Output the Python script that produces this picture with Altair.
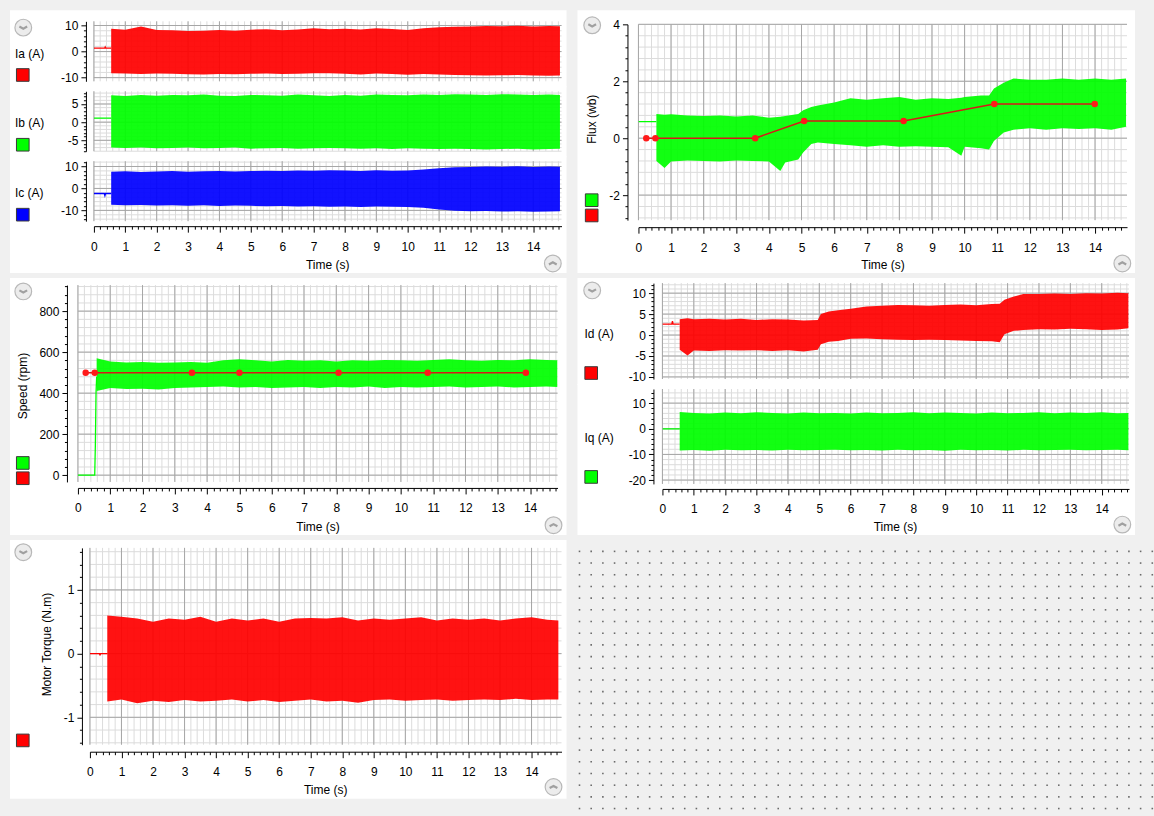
import altair as alt
import numpy as np
import pandas as pd

FONT = "Liberation Sans"
RED, GREEN, BLUE = "#ff0000", "#00ff00", "#0000ff"
REFLINE = "#d81818"
MINOR_C, MAJOR_C = "#dcdcdc", "#a6a6a6"
ONE = pd.DataFrame({"k": [0]})

# ---------------- data ----------------
T_STD = [0.55, 1.0, 1.5, 2.0, 2.5, 3.0, 3.5, 4.0, 4.5, 5.0, 5.5, 6.0, 6.5, 7.0, 7.5,
         8.0, 8.5, 9.0, 9.5, 10.0, 10.5, 11.0, 11.5, 12.0, 12.5, 13.0, 13.5, 14.0, 14.5, 14.85]

IA_PRE_T = [0, 0.34, 0.36, 0.38, 0.55]
IA_PRE_V = [1.3, 1.3, 1.8, 1.3, 1.3]
IA_HI = [8.8, 8.4, 9.6, 8.3, 8.2, 7.9, 8.0, 8.3, 8.0, 8.4, 8.6, 8.2, 8.5, 8.9, 8.6,
         8.8, 8.5, 8.9, 8.7, 8.3, 8.9, 9.3, 9.5, 9.6, 9.8, 9.7, 9.9, 9.6, 9.8, 9.7]
IA_LO = [-8.3, -8.4, -8.6, -8.4, -8.5, -8.7, -8.8, -8.6, -8.7, -8.5, -8.4, -8.6, -8.5, -8.3, -8.3,
         -8.5, -8.8, -8.4, -8.6, -8.9, -8.6, -8.8, -9.0, -9.1, -9.2, -9.1, -9.0, -9.2, -9.3, -9.2]

IB_PRE_T = [0, 0.55]
IB_PRE_V = [1.1, 1.1]
IB_HI = [7.4, 7.2, 7.5, 7.3, 7.5, 7.4, 7.6, 7.3, 7.2, 7.5, 7.4, 7.3, 7.6, 7.4, 7.2,
         7.5, 7.3, 7.6, 7.5, 7.4, 7.6, 7.5, 7.7, 7.6, 7.5, 7.7, 7.6, 7.5, 7.6, 7.5]
IB_LO = [-7.0, -7.1, -7.0, -7.2, -7.1, -7.0, -7.2, -7.1, -7.0, -7.3, -7.2, -7.1, -7.3, -7.2, -7.1,
         -7.2, -7.3, -7.2, -7.4, -7.2, -7.3, -7.4, -7.3, -7.4, -7.5, -7.4, -7.3, -7.5, -7.4, -7.3]

IC_PRE_T = [0, 0.33, 0.35, 0.37, 0.55]
IC_PRE_V = [-2.3, -2.3, -3.3, -2.3, -2.3]
IC_HI = [7.6, 7.8, 7.5, 7.7, 7.9, 7.6, 7.8, 8.0, 7.7, 7.9, 8.1, 8.0, 8.2, 8.1, 8.3,
         8.2, 8.0, 8.3, 8.1, 8.2, 8.6, 9.2, 9.6, 9.8, 10.0, 9.9, 10.1, 9.8, 10.0, 9.9]
IC_LO = [-7.4, -7.6, -7.5, -7.8, -7.6, -7.9, -7.7, -8.0, -7.8, -7.9, -8.1, -8.0, -8.2, -8.1, -8.3,
         -8.2, -8.4, -8.2, -8.3, -8.4, -8.8, -9.6, -10.2, -10.4, -10.3, -10.5, -10.4, -10.6, -10.5, -10.4]

FLUX_PRE_T = [0, 0.55]
FLUX_PRE_V = [0.58, 0.58]
FLUX_T = [0.55, 0.8, 1.0, 1.5, 2.0, 2.5, 3.0, 3.5, 4.0, 4.35, 4.5, 4.9, 5.05, 5.3, 5.5,
          6.0, 6.5, 7.0, 7.5, 8.0, 8.5, 9.0, 9.5, 9.9, 10.0, 10.5, 10.75, 10.9, 11.2, 11.5,
          12.0, 12.5, 13.0, 13.5, 14.0, 14.5, 14.95]
FLUX_HI = [0.85, 0.82, 0.84, 0.8, 0.78, 0.8, 0.76, 0.8, 0.72, 0.75, 0.78, 0.85, 0.98, 1.1, 1.15,
           1.25, 1.4, 1.35, 1.4, 1.45, 1.35, 1.4, 1.38, 1.42, 1.45, 1.5, 1.5, 1.75, 1.95, 2.1,
           2.05, 2.05, 2.1, 2.05, 2.1, 2.05, 2.1]
FLUX_LO = [-0.8, -1.05, -0.82, -0.78, -0.8, -0.82, -0.78, -0.8, -0.82, -1.15, -0.85, -0.75, -0.5, -0.2, -0.15,
           -0.2, -0.25, -0.3, -0.25, -0.3, -0.28, -0.3, -0.32, -0.62, -0.3, -0.35, -0.4, -0.1, 0.2, 0.3,
           0.35, 0.3, 0.35, 0.32, 0.35, 0.3, 0.4]
FLUX_REF_T = [0.24, 0.52, 3.58, 5.08, 8.13, 10.91, 13.99]
FLUX_REF_V = [0, 0, 0, 0.6, 0.6, 1.2, 1.2]

SPD_PRE_T = [0, 0.52, 0.54, 0.56, 0.58]
SPD_PRE_V = [0, 0, 150, 400, 480]
SPD_T = [0.58] + T_STD[1:]
SPD_HI = [570, 555, 550, 552, 548, 550, 552, 548, 560, 565, 560, 555, 562, 558, 560,
          555, 560, 558, 562, 560, 558, 562, 565, 560, 558, 562, 560, 565, 562, 560]
SPD_LO = [410, 425, 420, 422, 418, 425, 428, 430, 432, 428, 430, 425, 428, 430, 425,
          430, 428, 432, 425, 430, 428, 430, 432, 428, 430, 432, 428, 430, 432, 430]
SPD_REF_T = [0.24, 0.52, 3.53, 5.0, 8.07, 10.83, 13.87]
SPD_REF_V = [500, 500, 500, 500, 500, 500, 500]

ID_PRE_T = [0, 0.3, 0.32, 0.34, 0.55]
ID_PRE_V = [2.6, 2.6, 3.3, 2.6, 2.6]
ID_T = [0.55, 0.8, 1.0, 1.5, 2.0, 2.5, 3.0, 3.5, 4.0, 4.5, 4.95, 5.05, 5.3, 5.6, 6.0,
        6.5, 7.0, 7.5, 8.0, 8.5, 9.0, 9.5, 10.0, 10.5, 10.75, 10.9, 11.2, 11.5, 12.0, 12.5,
        13.0, 13.5, 14.0, 14.5, 14.85]
ID_HI = [3.8, 4.0, 3.8, 3.9, 3.7, 3.9, 3.6, 3.8, 3.7, 3.5, 3.6, 5.0, 5.6, 5.9, 6.3,
         6.8, 7.0, 7.2, 7.1, 7.0, 7.2, 7.3, 7.1, 7.4, 7.5, 8.4, 9.2, 9.8, 9.8, 9.9,
         9.8, 10.0, 9.9, 10.1, 10.0]
ID_LO = [-3.5, -4.9, -3.7, -3.8, -3.6, -3.7, -3.6, -3.8, -3.6, -3.9, -3.5, -2.2, -1.6, -1.4, -0.9,
         -0.8, -1.0, -1.1, -1.2, -1.1, -1.2, -1.3, -1.4, -1.5, -1.7, 0.2, 1.0, 1.2, 1.4, 1.3,
         1.5, 1.4, 1.2, 1.3, 1.6]

IQ_PRE_T = [0, 0.55]
IQ_PRE_V = [0, 0]
IQ_HI = [6.5, 6.2, 6.0, 6.3, 6.1, 6.4, 6.2, 6.0, 6.3, 6.1, 6.2, 6.0, 6.3, 6.1, 6.2,
         6.4, 6.1, 6.3, 6.2, 6.0, 6.3, 6.1, 6.2, 6.4, 6.1, 6.3, 6.2, 6.4, 6.1, 6.2]
IQ_LO = [-8.5, -8.3, -8.6, -8.2, -8.4, -8.3, -8.5, -8.2, -8.4, -8.3, -8.2, -8.4, -8.3, -8.5, -8.2,
         -8.4, -8.3, -8.6, -8.2, -8.4, -8.3, -8.5, -8.2, -8.4, -8.3, -8.2, -8.4, -8.3, -8.2, -8.4]

TQ_PRE_T = [0, 0.3, 0.32, 0.34, 0.55]
TQ_PRE_V = [0, 0, -0.02, 0, 0]
TQ_HI = [0.6, 0.58, 0.55, 0.5, 0.55, 0.53, 0.58, 0.5, 0.55, 0.52, 0.55, 0.5, 0.55, 0.56, 0.55,
         0.57, 0.52, 0.55, 0.53, 0.55, 0.57, 0.52, 0.55, 0.53, 0.55, 0.52, 0.55, 0.57, 0.53, 0.52]
TQ_LO = [-0.75, -0.72, -0.78, -0.74, -0.76, -0.73, -0.75, -0.74, -0.72, -0.75, -0.73, -0.76, -0.74, -0.72, -0.75,
         -0.74, -0.77, -0.73, -0.72, -0.74, -0.73, -0.72, -0.74, -0.73, -0.72, -0.73, -0.71, -0.73, -0.72, -0.72]


# ---------------- helpers ----------------
def steps(lo, hi, step):
    k0 = int(np.ceil(lo / step - 1e-9))
    k1 = int(np.floor(hi / step + 1e-9))
    return [round(k * step, 4) for k in range(k0, k1 + 1)]


def rect_layer(x1, x2, y1, y2, fill="white"):
    return alt.Chart(ONE).mark_rect(fill=fill, opacity=1, strokeWidth=0).encode(
        x=alt.value(x1), x2=alt.value(x2), y=alt.value(y1), y2=alt.value(y2))


def text_layer(txt, x, y, angle=0, align="left"):
    return alt.Chart(ONE).mark_text(text=txt, font=FONT, fontSize=12, angle=angle, align=align,
                                    baseline="middle", color="black").encode(
        x=alt.value(x), y=alt.value(y))


def swatch_layer(color, x, y):
    return alt.Chart(ONE).mark_square(size=160, filled=True, fill=color, stroke="#3a3a3a",
                                      strokeWidth=1, opacity=1).encode(x=alt.value(x), y=alt.value(y))


DOWN = "M-0.55,-0.15L0,0.15L0.55,-0.15"
UP = "M-0.55,0.15L0,-0.15L0.55,0.15"


def icon_layers(x, y, up):
    c = alt.Chart(ONE).mark_point(shape="circle", size=280, filled=True, fill="#ececec",
                                  stroke="#b8b8b8", strokeWidth=1.2, opacity=1).encode(
        x=alt.value(x), y=alt.value(y))
    ch = alt.Chart(ONE).mark_point(shape=UP if up else DOWN, size=200, filled=False,
                                   stroke="#a0a0a0", strokeWidth=2.2, opacity=1).encode(
        x=alt.value(x), y=alt.value(y))
    return [c, ch]


def build(sp):
    ox, oy = sp["origin"]
    w, h = sp["w"], sp["h"]
    xdom, ydom = sp["xdom"], sp["ydom"]
    xsc = alt.Scale(domain=xdom, nice=False, zero=False)
    ysc = alt.Scale(domain=ydom, nice=False, zero=False)
    xt_min = steps(0, xdom[1], 0.2)
    xt_maj = steps(0, xdom[1], 1)
    yt_min = steps(ydom[0], ydom[1], sp["ystep"])
    yt_maj = steps(ydom[0], ydom[1], sp["ymajor"])

    if sp.get("xoff") is not None:
        tx = "abs(datum.value - round(datum.value)) < 1e-6"
        xax = alt.Axis(values=xt_min, labelExpr=f"{tx} ? '' + round(datum.value) : ''",
                       tickSize={"condition": {"test": tx, "value": 6}, "value": 3},
                       labelFontSize={"condition": {"test": tx, "value": 12}, "value": 0},
                       offset=sp["xoff"], grid=False, labelOverlap=False, labelFlush=False,
                       labelFont=FONT, labelColor="black", labelPadding=9,
                       domainColor="black", tickColor="black", zindex=1, title="")
    else:
        xax = None
    M = sp["ymajor"]
    ty = f"abs(datum.value % {M}) < 1e-6"
    yax = alt.Axis(values=yt_min, labelExpr=f"{ty} ? '' + datum.value : ''",
                   tickSize={"condition": {"test": ty, "value": 5}, "value": 2.5},
                   labelFontSize={"condition": {"test": ty, "value": 12}, "value": 0},
                   offset=sp["yoff"], grid=False, labelOverlap=False, labelFlush=False,
                   labelFont=FONT, labelColor="black", labelPadding=3,
                   domainColor="black", tickColor="black", zindex=1, title="")

    def X(f):
        return alt.X(f + ":Q", scale=xsc, axis=xax, title="")

    def Y(f):
        return alt.Y(f + ":Q", scale=ysc, axis=yax, title="")

    bx1, by1, bx2, by2 = sp["box"]
    L = [rect_layer(bx1 - ox, bx2 - ox, by1 - oy, by2 - oy)]
    L.append(alt.Chart(pd.DataFrame({"t": xt_min})).mark_rule(color=MINOR_C, strokeWidth=1).encode(x=X("t")))
    L.append(alt.Chart(pd.DataFrame({"v": yt_min})).mark_rule(color=MINOR_C, strokeWidth=1).encode(y=Y("v")))
    L.append(alt.Chart(pd.DataFrame({"t": xt_maj})).mark_rule(color=MAJOR_C, strokeWidth=1).encode(x=X("t")))
    L.append(alt.Chart(pd.DataFrame({"v": yt_maj})).mark_rule(color=MAJOR_C, strokeWidth=1).encode(y=Y("v")))

    for s in sp["series"]:
        if s["kind"] == "band":
            df = pd.DataFrame({"t": s["t"], "hi": s["hi"], "lo": s["lo"]})
            L.append(alt.Chart(df).mark_area(color=s["color"], opacity=0.93, clip=True).encode(
                x=X("t"), y=Y("hi"), y2=alt.Y2("lo")))
        elif s["kind"] == "line":
            df = pd.DataFrame({"t": s["t"], "v": s["v"]})
            L.append(alt.Chart(df).mark_line(color=s["color"], strokeWidth=1.3, clip=True).encode(
                x=X("t"), y=Y("v")))
        elif s["kind"] == "ref":
            df = pd.DataFrame({"t": s["t"], "v": s["v"]})
            L.append(alt.Chart(df).mark_line(color=REFLINE, strokeWidth=1.5).encode(x=X("t"), y=Y("v")))
            L.append(alt.Chart(df).mark_circle(color="#ff1a1a", size=42, opacity=1).encode(x=X("t"), y=Y("v")))

    for (txt, x, y, angle, align) in sp.get("texts", []):
        L.append(text_layer(txt, x - ox, y - oy, angle, align))
    for (color, x, y) in sp.get("swatches", []):
        L.append(swatch_layer(color, x - ox, y - oy))
    for (x, y, up) in sp.get("icons", []):
        L.extend(icon_layers(x - ox, y - oy, up))
    return alt.layer(*L).properties(width=w, height=h)


def band(t, hi, lo, color):
    return {"kind": "band", "t": t, "hi": hi, "lo": lo, "color": color}


def line(t, v, color):
    return {"kind": "line", "t": t, "v": v, "color": color}


# ---------------- panel specs (pixel layout) ----------------
# upper slices overlap the next slice by 1 px (compensated by spacing=-1) so no seam shows
IA = dict(origin=(94, 21), w=468, h=60, xdom=[0, 14.9], ydom=[-11.4, 11.6], ystep=2, ymajor=10,
          yoff=8, box=(10, 10, 567, 87),
          series=[line(IA_PRE_T, IA_PRE_V, RED), band(T_STD, IA_HI, IA_LO, RED)],
          texts=[("Ia (A)", 15, 53.3, 0, "left")], swatches=[(RED, 22.8, 74.7)],
          icons=[(23.3, 27.3, False)])
IB = dict(origin=(94, 91), w=468, h=60, xdom=[0, 14.9], ydom=[-8.0, 8.5], ystep=1, ymajor=5,
          yoff=8, box=(10, 86, 567, 157),
          series=[line(IB_PRE_T, IB_PRE_V, GREEN), band(T_STD, IB_HI, IB_LO, GREEN)],
          texts=[("Ib (A)", 15, 122.7, 0, "left")], swatches=[(GREEN, 22.8, 144.5)])
IC = dict(origin=(94, 161), w=468, h=60, xdom=[0, 14.9], ydom=[-14.9, 12.4], ystep=2, ymajor=10,
          yoff=8, xoff=5, box=(10, 156, 567, 273),
          series=[line(IC_PRE_T, IC_PRE_V, BLUE), band(T_STD, IC_HI, IC_LO, BLUE)],
          texts=[("Ic (A)", 15, 192.7, 0, "left"), ("Time (s)", 328, 265, 0, "center")],
          swatches=[(BLUE, 22.8, 214.5)], icons=[(553.3, 263.3, True)])

FLUX = dict(origin=(639, 24), w=489, h=196, xdom=[0, 14.98], ydom=[-2.88, 4.0], ystep=0.4, ymajor=2,
            yoff=11, xoff=7, box=(578, 10, 1136, 273),
            series=[line(FLUX_PRE_T, FLUX_PRE_V, GREEN), band(FLUX_T, FLUX_HI, FLUX_LO, GREEN),
                    {"kind": "ref", "t": FLUX_REF_T, "v": FLUX_REF_V}],
            texts=[("Flux (wb)", 592.7, 119, 270, "center"), ("Time (s)", 883.8, 265, 0, "center")],
            swatches=[(GREEN, 592.2, 200), (RED, 592.2, 215.3)],
            icons=[(592.7, 25, False), (1123.3, 263.3, True)])

SPEED = dict(origin=(78, 283), w=480, h=197, xdom=[0, 14.85], ydom=[-33, 927], ystep=40, ymajor=200,
             yoff=11, xoff=6, box=(10, 276, 567, 533),
             series=[line(SPD_PRE_T, SPD_PRE_V, GREEN), band(SPD_T, SPD_HI, SPD_LO, GREEN),
                     {"kind": "ref", "t": SPD_REF_T, "v": SPD_REF_V}],
             texts=[("Speed (rpm)", 22.7, 384, 270, "center"), ("Time (s)", 318.3, 525, 0, "center")],
             swatches=[(GREEN, 22.8, 461), (RED, 22.8, 476.3)],
             icons=[(23.3, 289.3, False), (554, 523.3, True)])

ID = dict(origin=(663, 281), w=467, h=96, xdom=[0, 14.87], ydom=[-10.5, 12.4], ystep=1, ymajor=5,
          yoff=9, box=(578, 276, 1136, 383),
          series=[line(ID_PRE_T, ID_PRE_V, RED), band(ID_T, ID_HI, ID_LO, RED)],
          texts=[("Id (A)", 585, 331.7, 0, "left")], swatches=[(RED, 591.7, 371)],
          icons=[(592.7, 288.3, False)])
IQ = dict(origin=(663, 387), w=467, h=95, xdom=[0, 14.87], ydom=[-21.5, 15.5], ystep=2, ymajor=10,
          yoff=9, xoff=5, box=(578, 382, 1136, 533),
          series=[line(IQ_PRE_T, IQ_PRE_V, GREEN), band(T_STD, IQ_HI, IQ_LO, GREEN)],
          texts=[("Iq (A)", 585, 435.7, 0, "left"), ("Time (s)", 896.2, 525, 0, "center")],
          swatches=[(GREEN, 591.7, 475)], icons=[(1123.3, 522.7, True)])

TQ = dict(origin=(90, 544), w=472, h=197, xdom=[0, 14.95], ydom=[-1.43, 1.66], ystep=0.2, ymajor=1,
          yoff=8, xoff=7, box=(10, 536, 567, 795),
          series=[line(TQ_PRE_T, TQ_PRE_V, RED), band(T_STD, TQ_HI, TQ_LO, RED)],
          texts=[("Motor Torque (N.m)", 46.7, 640.8, 270, "center"), ("Time (s)", 326, 786, 0, "center")],
          swatches=[(RED, 22.8, 736.7)], icons=[(23.3, 548.3, False), (554, 783.3, True)])

# ---------------- empty dotted area ----------------
gx, gy = np.meshgrid(np.arange(2.0, 576, 11.7), np.arange(11.5, 280, 11.7))
dots = pd.DataFrame({"px": gx.ravel(), "py": gy.ravel()})
empty = alt.Chart(dots).mark_square(size=2.5, color="#6a6a6a", opacity=1).encode(
    x=alt.X("px:Q", scale=alt.Scale(domain=[0, 576], nice=False, zero=False), axis=None),
    y=alt.Y("py:Q", scale=alt.Scale(domain=[0, 280], nice=False, zero=False, reverse=True), axis=None),
).properties(width=576, height=280)


def spacer():
    # 1x1 invisible view used as a layout anchor
    return alt.Chart(alt.Data(values=[])).mark_point().encode(
        x=alt.value(0), y=alt.value(0)).properties(width=1, height=1)


def vwrap(p):
    return alt.concat(spacer(), p, columns=1, spacing=0)


def hwrap(p):
    return alt.concat(spacer(), p, columns=2, spacing=0)


panelA = alt.concat(build(IA), build(IB), build(IC), columns=1, spacing=-1)
panelB = build(FLUX)
panelC = build(SPEED)
panelD = alt.concat(build(ID), build(IQ), columns=1, spacing=-1)
panelE = build(TQ)

row1 = alt.concat(hwrap(vwrap(panelA)), vwrap(panelB), columns=2, spacing=11)
row2 = alt.concat(hwrap(vwrap(panelC)), vwrap(panelD), columns=2, spacing=11)
row3 = alt.concat(hwrap(vwrap(panelE)), vwrap(empty), columns=2, spacing=11)

chart = alt.concat(row1, row2, row3, columns=1, spacing=2).properties(
    background="#f0f0f0",
    padding={"left": 9, "top": 9, "right": 0, "bottom": 0},
).configure_view(stroke="transparent", strokeWidth=0)

chart.save("out.html", embed_options={"renderer": "svg", "actions": False})
